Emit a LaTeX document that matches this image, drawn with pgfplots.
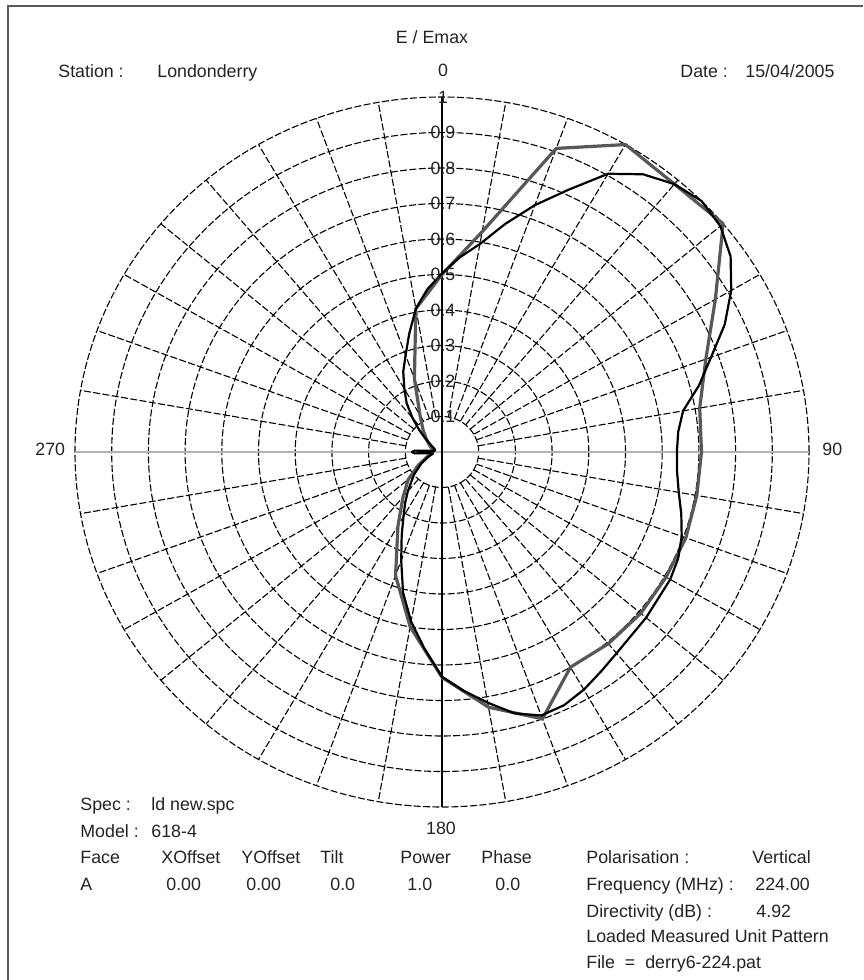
\documentclass[border=0pt]{standalone}
\usepackage{fontspec}
\setmainfont{Liberation Sans}
\usepackage{pgfplots}
\pgfplotsset{compat=1.18}
\usepackage{pgfplotstable}
\definecolor{curvegray}{RGB}{88,88,88}
\definecolor{txt}{RGB}{35,35,35}

% measured pattern (grey): compass angle (deg), E/Emax
\pgfplotstableread{
a r
0 0.50
10 0.63
20 0.91
30 1.00
40 0.985
50 1.00
60 0.86
70 0.765
80 0.713
90 0.707
100 0.705
110 0.707
120 0.705
130 0.707
140 0.705
150 0.70
160 0.80
170 0.73
180 0.635
190 0.50
200 0.37
210 0.24
220 0.165
230 0.12
240 0.075
250 0.045
260 0.03
270 0.025
280 0.025
290 0.03
300 0.04
310 0.055
320 0.08
330 0.12
340 0.22
350 0.41
360 0.50
}\graydata

% computed pattern (black)
\pgfplotstableread{
a r
0 0.503
5 0.55
10 0.595
15 0.665
20 0.74
25 0.815
30 0.905
35 0.955
40 0.985
45 1.0
50 0.99
55 0.96
60 0.91
65 0.85
70 0.78
75 0.725
80 0.667
85 0.646
90 0.64
95 0.643
100 0.655
105 0.675
110 0.695
115 0.71
120 0.718
130 0.726
140 0.74
145 0.755
150 0.773
155 0.787
160 0.79
165 0.762
170 0.717
175 0.675
180 0.633
185 0.555
190 0.485
195 0.41
200 0.325
205 0.26
210 0.21
215 0.175
220 0.145
230 0.10
240 0.065
250 0.04
260 0.025
264 0.03
267 0.075
270 0.082
273 0.075
276 0.03
280 0.02
290 0.02
300 0.03
305 0.04
310 0.06
315 0.088
320 0.125
325 0.168
330 0.205
335 0.25
340 0.29
345 0.345
350 0.41
355 0.46
360 0.503
}\blackdata

\begin{document}
\begin{tikzpicture}[font=\fontsize{8.9pt}{10.7pt}\selectfont]
\useasboundingbox (0,0) rectangle (431.5pt,490pt);
% frame
\draw[black!65, line width=0.9pt] (4pt,0) -- (4pt,487pt) -- (431.5pt,487pt);
% grid
\begin{scope}[shift={(221pt,264pt)}, x=183.5pt, y=177.5pt]
  \foreach \k in {1,...,10}
    \draw[black, line width=0.55pt, dash pattern=on 3.5pt off 1.2pt]
      (0,0) ellipse [x radius={\k*18.35pt}, y radius={\k*17.75pt}];
  \foreach \a in {10,20,30,40,50,60,70,80,100,110,120,130,140,150,160,170,190,200,210,220,230,240,250,260,280,290,300,310,320,330,340,350}
    \draw[black, line width=0.55pt, dash pattern=on 3.5pt off 1.2pt]
      ({0.1*sin(\a)},{0.1*cos(\a)}) -- ({sin(\a)},{cos(\a)});
  \draw[black!30, line width=0.6pt] (-1,0) -- (1,0);
  \draw[black, line width=0.65pt] (0,-1) -- (0,1);
\end{scope}

\begin{axis}[at={(221pt,264pt)}, anchor=origin,
  x=183.5pt, y=177.5pt, xmin=-1, xmax=1, ymin=-1, ymax=1,
  hide axis, clip=false]
\addplot[curvegray, line width=1.6pt, line join=round, no marks]
  table[x expr={\thisrow{r}*sin(\thisrow{a})}, y expr={\thisrow{r}*cos(\thisrow{a})}] {\graydata};
\addplot[black, line width=1.1pt, line join=round, no marks]
  table[x expr={\thisrow{r}*sin(\thisrow{a})}, y expr={\thisrow{r}*cos(\thisrow{a})}] {\blackdata};
\end{axis}

% texts (pixel coordinates of the 863x980 reference)
\begin{scope}[x=0.5pt, y=-0.5pt, shift={(0,490pt)}, every node/.style={inner sep=0pt, text=txt}]
  \foreach \k/\l in {1/0.1,2/0.2,3/0.3,4/0.4,5/0.5,6/0.6,7/0.7,8/0.8,9/0.9,10/1}
    \node[anchor=center] at (443,{452-35.5*\k}) {\l};
  \node[anchor=base] at (432,44) {E / Emax};
  \node[anchor=base] at (443,77) {0};
  \node[anchor=base west] at (58,78) {Station :};
  \node[anchor=base west] at (157,78) {Londonderry};
  \node[anchor=base west] at (680,78) {Date :};
  \node[anchor=base west] at (745,78) {15/04/2005};
  \node[anchor=base west] at (35,456) {270};
  \node[anchor=base west] at (822,456) {90};
  \node[anchor=base] at (441,835) {180};
  \node[anchor=base west] at (80,811) {Spec :};
  \node[anchor=base west] at (151,811) {ld new.spc};
  \node[anchor=base west] at (80,838) {Model :};
  \node[anchor=base west] at (151,838) {618-4};
  \node[anchor=base west] at (80,864) {Face};
  \node[anchor=base west] at (161,864) {XOffset};
  \node[anchor=base west] at (241,864) {YOffset};
  \node[anchor=base west] at (320,864) {Tilt};
  \node[anchor=base west] at (400,864) {Power};
  \node[anchor=base west] at (481,864) {Phase};
  \node[anchor=base west] at (586,864) {Polarisation :};
  \node[anchor=base west] at (752,864) {Vertical};
  \node[anchor=base west] at (80,891) {A};
  \node[anchor=base west] at (166,891) {0.00};
  \node[anchor=base west] at (246,891) {0.00};
  \node[anchor=base west] at (330,891) {0.0};
  \node[anchor=base west] at (407,891) {1.0};
  \node[anchor=base west] at (495,891) {0.0};
  \node[anchor=base west] at (586,891) {Frequency (MHz) :};
  \node[anchor=base west] at (755,891) {224.00};
  \node[anchor=base west] at (586,918) {Directivity (dB) :};
  \node[anchor=base west] at (756,918) {4.92};
  \node[anchor=base west] at (586,943) {Loaded Measured Unit Pattern};
  \node[anchor=base west] at (586,969) {File \ = \ derry6-224.pat};
\end{scope}
\end{tikzpicture}
\end{document}
